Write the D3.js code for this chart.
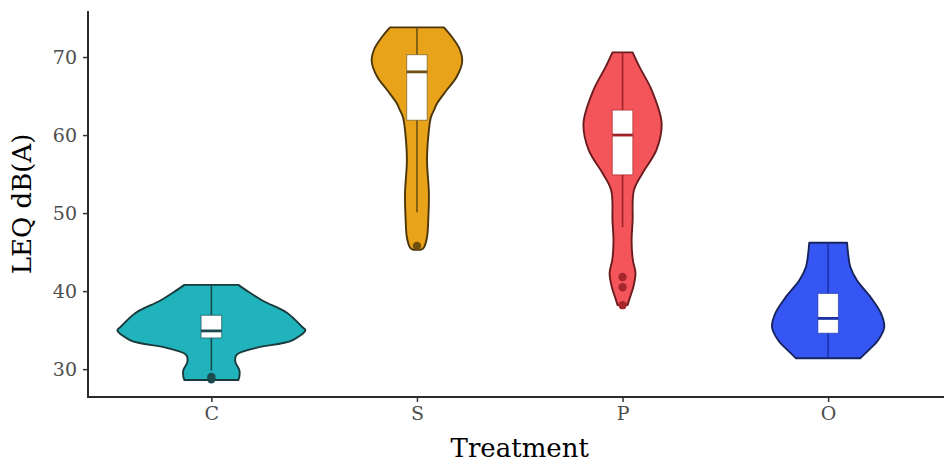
<!DOCTYPE html>
<html>
<head>
<meta charset="utf-8">
<script src="https://cdn.jsdelivr.net/npm/d3@7"></script>
<style>
  html, body { margin: 0; padding: 0; background: #ffffff; }
  svg { display: block; }
</style>
</head>
<body>
<svg id="chart" width="944" height="462"></svg>
<script>
// ---------------- DATA ----------------
const categories = ["C", "S", "P", "O"];
const yTicks = [30, 40, 50, 60, 70];

// Violin outlines: LEQ levels and half-widths (in units of one category step)
const levelsC = [28.6, 29.0, 29.9, 30.9, 31.8, 32.7, 33.7, 35.0, 35.4, 37.2, 38.8, 40.1, 40.8];
const widthsC = [0.131, 0.136, 0.136, 0.117, 0.122, 0.214, 0.394, 0.457, 0.442, 0.369, 0.248, 0.170, 0.131];

const levelsS = [45.3, 45.6, 46.9, 49.1, 52.6, 56.8, 60.6, 62.3, 63.2, 64.1, 65.8, 67.4, 69.4, 71.0, 72.5, 73.8];
const widthsS = [0.019, 0.034, 0.049, 0.055, 0.058, 0.049, 0.058, 0.068, 0.083, 0.099, 0.146, 0.192, 0.220, 0.208, 0.172, 0.131];

const levelsP = [38.2, 39.2, 40.5, 42.3, 44.0, 46.5, 49.0, 52.9, 55.1, 58.1, 61.5, 65.8, 68.7, 70.6];
const widthsP = [0.024, 0.036, 0.052, 0.063, 0.050, 0.044, 0.049, 0.055, 0.097, 0.165, 0.190, 0.141, 0.083, 0.049];

const levelsO = [31.4, 32.4, 33.7, 35.4, 37.2, 39.2, 41.4, 43.1, 44.6, 46.2];
const widthsO = [0.156, 0.196, 0.243, 0.273, 0.256, 0.207, 0.140, 0.108, 0.098, 0.092];

// Box plot statistics per category
const q1 = [34.0, 61.9, 54.9, 34.6];
const medians = [34.9, 68.1, 60.0, 36.5];
const q3 = [36.9, 70.3, 63.2, 39.7];
const whiskerLow = [29.8, 50.1, 48.2, 31.4];
const whiskerHigh = [40.8, 73.8, 70.6, 46.2];
const outliersC = [28.7, 29.0];
const outliersS = [45.8];
const outliersP = [41.8, 40.5, 38.2];
const outliersO = [];

// ---------------- STYLE ----------------
const fillColors = ["#20b3bc", "#e8a31b", "#f4555b", "#3556f2"];
const outlineColors = ["#1b3a3c", "#4a3608", "#6b1c1f", "#17255e"];
const lineColors = ["#1c4a4e", "#6e5214", "#9e2227", "#1a33a6"];
const pointColors = ["#1d4a4d", "#6f4f0c", "#a5262b", "#1a33a6"];

// ---------------- BUILD ----------------
const violins = [
  { levels: levelsC, widths: widthsC, outliers: outliersC },
  { levels: levelsS, widths: widthsS, outliers: outliersS },
  { levels: levelsP, widths: widthsP, outliers: outliersP },
  { levels: levelsO, widths: widthsO, outliers: outliersO }
];

const svg = d3.select("#chart");

// x: category index as continuous with ggplot-style 0.6 expansion
const x = d3.scaleLinear().domain([0.4, 4.6]).range([88, 951.5]);
const step = x(2) - x(1);
const y = d3.scaleLinear().domain([26.43, 75.9]).range([397, 11]);

const fontFam = "'DejaVu Serif', 'Liberation Serif', serif";

const g = svg.append("g");

violins.forEach((v, i) => {
  const cx = x(i + 1);
  const pts = v.levels.map((lv, k) => ({ lv, w: v.widths[k] }));
  const area = d3.area()
    .y(d => y(d.lv))
    .x0(d => cx - d.w * step)
    .x1(d => cx + d.w * step)
    .curve(d3.curveCatmullRom.alpha(0.5));
  g.append("path")
    .attr("d", area(pts))
    .attr("fill", fillColors[i])
    .attr("stroke", outlineColors[i])
    .attr("stroke-width", 1.9)
    .attr("stroke-linejoin", "round");

  // whisker
  g.append("line")
    .attr("x1", cx).attr("x2", cx)
    .attr("y1", y(whiskerLow[i])).attr("y2", y(whiskerHigh[i]))
    .attr("stroke", lineColors[i]).attr("stroke-width", 1.6);

  // box
  const bw = 0.05 * step;
  g.append("rect")
    .attr("x", cx - bw).attr("width", 2 * bw)
    .attr("y", y(q3[i])).attr("height", y(q1[i]) - y(q3[i]))
    .attr("fill", "#ffffff")
    .attr("stroke", lineColors[i]).attr("stroke-opacity", 0.6).attr("stroke-width", 1.1);

  // median
  g.append("line")
    .attr("x1", cx - bw).attr("x2", cx + bw)
    .attr("y1", y(medians[i])).attr("y2", y(medians[i]))
    .attr("stroke", lineColors[i]).attr("stroke-width", 2.8);

  // outliers
  g.selectAll(null).data(v.outliers).enter().append("circle")
    .attr("cx", cx).attr("cy", d => y(d)).attr("r", 4.2)
    .attr("fill", pointColors[i]);
});

// ---------------- AXES ----------------
const yAxis = d3.axisLeft(y).tickValues(yTicks).tickSize(5).tickPadding(6);
const yg = svg.append("g").attr("transform", "translate(88,0)").call(yAxis);
yg.select(".domain").remove();
yg.selectAll(".tick line").attr("stroke", "#333").attr("stroke-width", 1.5);
yg.selectAll(".tick text").attr("fill", "#4d4d4d").attr("font-family", fontFam).attr("font-size", 19);

const xAxis = d3.axisBottom(x).tickValues([1, 2, 3, 4]).tickFormat((d) => categories[d - 1]).tickSize(5).tickPadding(5);
const xg = svg.append("g").attr("transform", "translate(0,397)").call(xAxis);
xg.select(".domain").remove();
xg.selectAll(".tick line").attr("stroke", "#333").attr("stroke-width", 1.5);
xg.selectAll(".tick text").attr("fill", "#4d4d4d").attr("font-family", fontFam).attr("font-size", 19);

// axis lines
svg.append("line").attr("x1", 88).attr("x2", 88).attr("y1", 11).attr("y2", 398)
  .attr("stroke", "#2b2b2b").attr("stroke-width", 2);
svg.append("line").attr("x1", 87).attr("x2", 944).attr("y1", 397).attr("y2", 397)
  .attr("stroke", "#2b2b2b").attr("stroke-width", 2);

// titles
svg.append("text")
  .attr("x", x(2.5)).attr("y", 457)
  .attr("text-anchor", "middle")
  .attr("font-family", fontFam).attr("font-size", 26)
  .attr("fill", "#000")
  .text("Treatment");

svg.append("text")
  .attr("transform", `translate(31,${(11 + 397) / 2}) rotate(-90)`)
  .attr("text-anchor", "middle")
  .attr("font-family", fontFam).attr("font-size", 26)
  .attr("fill", "#000")
  .text("LEQ dB(A)");
</script>
</body>
</html>
